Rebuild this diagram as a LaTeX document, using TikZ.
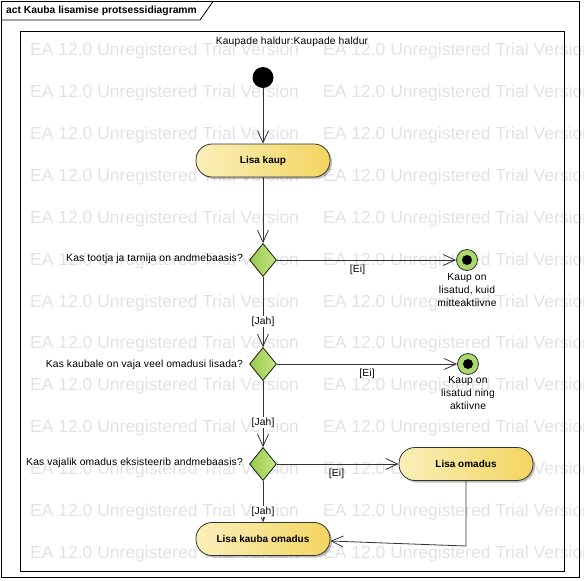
\documentclass[tikz,border=0pt]{standalone}
\usepackage{fontspec}
\setmainfont{Liberation Sans}
\newfontfamily\labelfont[LetterSpace=1.5]{Liberation Sans}
\usetikzlibrary{arrows.meta,shapes.geometric,shadows}

\definecolor{wmgray}{HTML}{E2E2E2}
\definecolor{actL}{HTML}{FAEFBA}
\definecolor{actR}{HTML}{F3D560}
\definecolor{decL}{HTML}{98C94C}
\definecolor{decR}{HTML}{C8E583}
\definecolor{finfill}{HTML}{A9D86B}
\definecolor{edgecol}{HTML}{333333}

\begin{document}
\begin{tikzpicture}[x=1pt,y=-1pt,
  every node/.style={inner sep=0pt, font=\labelfont\fontsize{10.3}{12}\selectfont},
  wmtext/.style={text=wmgray, anchor=west, font=\rmfamily\fontsize{17.5}{20}\selectfont},
  action/.style={rectangle, rounded corners=16pt, draw=edgecol, line width=0.8pt,
    minimum width=134pt, minimum height=33pt, left color=actL, right color=actR,
    font=\rmfamily\bfseries\fontsize{10}{12}\selectfont,
    drop shadow={shadow xshift=2pt, shadow yshift=-2pt, fill=black, opacity=0.25}},
  decision/.style={diamond, draw=edgecol!70!green!30!black, line width=0.8pt,
    minimum width=27pt, minimum height=33pt, left color=decL, right color=decR},
  initial/.style={circle, fill=black, minimum size=21pt},
  final/.style={circle, draw=edgecol, line width=0.8pt, fill=finfill, minimum size=21pt,
    path picture={\fill[black] (path picture bounding box.center) circle (5pt);}},
  flow/.style={draw=edgecol, line width=0.8pt,
    -{Straight Barb[length=12pt, width=11pt]}},
  guard/.style={fill=white, inner sep=0.6pt},
  ei/.style={inner sep=0pt},
  question/.style={anchor=east},
  note/.style={align=center, font=\labelfont\fontsize{10.3}{12.8}\selectfont}
]
\useasboundingbox (0,0) rectangle (584,581);
\clip (0,0) rectangle (584,581);

% repeated background stamp
\foreach \r in {0,...,12}{
  \foreach \c in {0,1}{
    \node[wmtext] (wm-\r-\c) at ({30+293*\c},{51+41.92*\r}) {EA 12.0 Unregistered Trial Version};
  }
}

% diagram frame with its name tab
\draw[line width=0.8pt] (1.5,1.5) rectangle (579.5,577.5);
\draw[line width=0.8pt] (1.5,20) -- (200,20) -- (213,1.5);
\node[anchor=west, font=\rmfamily\bfseries\fontsize{10.3}{12}\selectfont] (title) at (6,11) {act Kauba lisamise protsessidiagramm};

% partition
\draw[line width=0.8pt] (20.5,31.5) rectangle (564.5,571.5);
\node (part) at (292,42) {Kaupade haldur:Kaupade haldur};

% activity nodes
\node[initial] (start) at (263,77.5) {};
\node[action] (lisakaup) at (263,160.5) {Lisa kaup};
\node[decision] (d1) at (263,260) {};
\node[final] (f1) at (467,260) {};
\node[decision] (d2) at (263,364) {};
\node[final] (f2) at (468,364) {};
\node[decision] (d3) at (263,464) {};
\node[action] (lisaomadus) at (466,464) {Lisa omadus};
\node[action] (lisakaubaomadus) at (263,539) {Lisa kauba omadus};

% questions beside the decisions
\node[question] (q1) at (243,259) {Kas tootja ja tarnija on andmebaasis?};
\node[question] (q2) at (243,365) {Kas kaubale on vaja veel omadusi lisada?};
\node[question] (q3) at (243,463) {Kas vajalik omadus eksisteerib andmebaasis?};

% end state descriptions
\node[note] (f1text) at (467,290) {Kaup on\\lisatud, kuid\\mitteaktiivne};
\node[note] (f2text) at (468,393) {Kaup on\\lisatud ning\\aktiivne};

% control flows
\draw[flow] (start) -- (lisakaup);
\draw[flow] (lisakaup) -- (d1);
\draw[flow] (d1) -- node[ei, below=5pt, pos=0.45] (g1) {[Ei]} (f1);
\draw[flow] (d1) -- node[guard, pos=0.64] (g2) {[Jah]} (d2);
\draw[flow] (d2) -- node[ei, below=5pt, pos=0.5] (g3) {[Ei]} (f2);
\draw[flow] (d2) -- node[guard, pos=0.63] (g4) {[Jah]} (d3);
\draw[flow] (d3) -- node[ei, below=5pt, pos=0.49] (g5) {[Ei]} (lisaomadus);
\draw[flow] (d3) -- node[guard, pos=0.75] (g6) {[Jah]} (lisakaubaomadus);
\coordinate (ret) at (466,546);
\draw[flow] (lisaomadus) -- (ret) -- ([yshift=-2pt]lisakaubaomadus.east);
\end{tikzpicture}
\end{document}
